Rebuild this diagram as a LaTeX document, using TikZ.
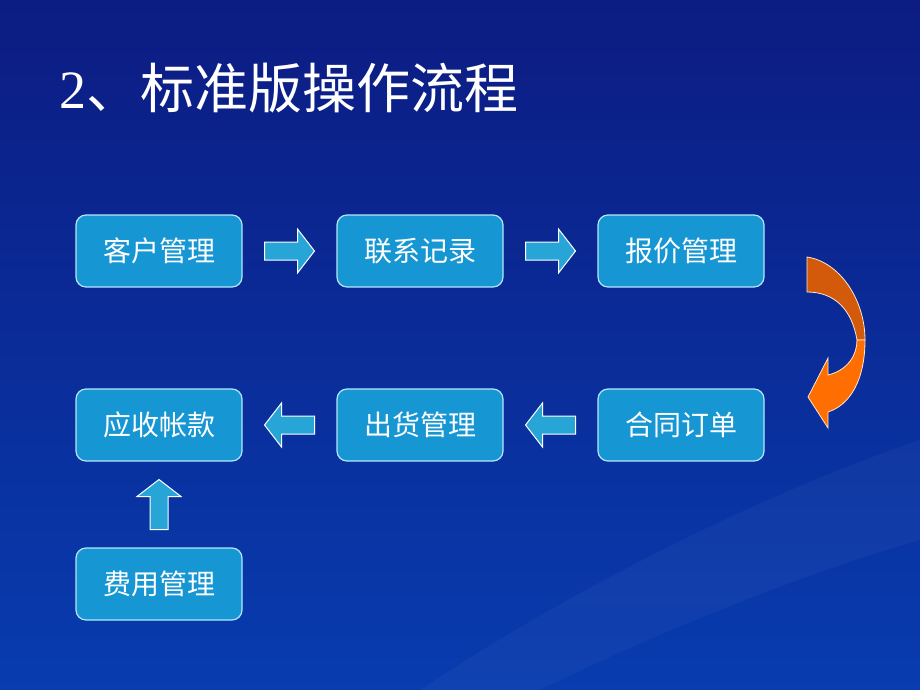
\documentclass[tikz,border=0pt]{standalone}
\usepackage{fontspec}
\newfontfamily\cjk{Noto Sans CJK SC}
\setmainfont{Liberation Serif}
\definecolor{bgtop}{RGB}{12,28,130}
\definecolor{bgbot}{RGB}{8,60,175}
\definecolor{boxfill}{RGB}{22,150,210}
\definecolor{arrfill}{RGB}{40,165,215}
\definecolor{orgA}{RGB}{210,90,10}
\definecolor{orgB}{RGB}{255,110,0}
\tikzset{
 stepbox/.style={draw=white!70!cyan, line width=0.6pt, fill=boxfill, rounded corners=5pt,
   minimum width=83pt, minimum height=36pt, inner sep=0pt, text=white, font=\cjk\fontsize{14}{16}\selectfont},
 blockarr/.style={draw=white, line width=0.5pt, fill=arrfill}
}
\newcommand\blkarrow[2]{\draw[blockarr, shift={(#1)}, rotate=#2] (-25,-9) -- (8,-9) -- (8,-22) -- (25,0) -- (8,22) -- (8,9) -- (-25,9) -- cycle;}
\begin{document}
\begin{tikzpicture}[x=0.5pt,y=-0.5pt]
\shade[top color=bgtop, bottom color=bgbot] (0,0) rectangle (920,690);
\useasboundingbox (0,0) rectangle (920,690);
\fill[white, opacity=0.035] (420,690) .. controls (600,570) and (800,480) .. (920,440) -- (920,540) .. controls (780,580) and (620,650) .. (540,690) -- cycle;
\node[anchor=west, text=white, font=\fontsize{27}{30}\selectfont] (title) at (52,88) {2{\cjk 、标准版操作流程}};
\node[stepbox] (a) at (159,251) {客户管理};
\node[stepbox] (b) at (420,251) {联系记录};
\node[stepbox] (c) at (681,251) {报价管理};
\node[stepbox] (d) at (681,425) {合同订单};
\node[stepbox] (e) at (420,425) {出货管理};
\node[stepbox] (f) at (159,425) {应收帐款};
\node[stepbox] (g) at (159,584) {费用管理};
\path (a) -- coordinate (ab) (b);
\path (b) -- coordinate (bc) (c);
\path (d) -- coordinate (de) (e);
\path (e) -- coordinate (ef) (f);
\path (f) -- coordinate (fg) (g);
\blkarrow{ab}{0}
\blkarrow{bc}{0}
\blkarrow{de}{180}
\blkarrow{ef}{180}
\blkarrow{fg}{90}
% curved orange arrow
\fill[orgA, draw=white!80!orange, line width=0.4pt] (807,257) .. controls (840,262) and (865,300) .. (865,340)
  -- (857,340) .. controls (852,310) and (835,292) .. (807,292) -- cycle;
\fill[orgB, draw=white!80!orange, line width=0.4pt] (865,340) .. controls (865,380) and (850,405) .. (828,412)
  -- (828,428) -- (808,397) -- (828,358) -- (828,375) .. controls (848,370) and (857,355) .. (857,340) -- cycle;
\end{tikzpicture}
\end{document}
